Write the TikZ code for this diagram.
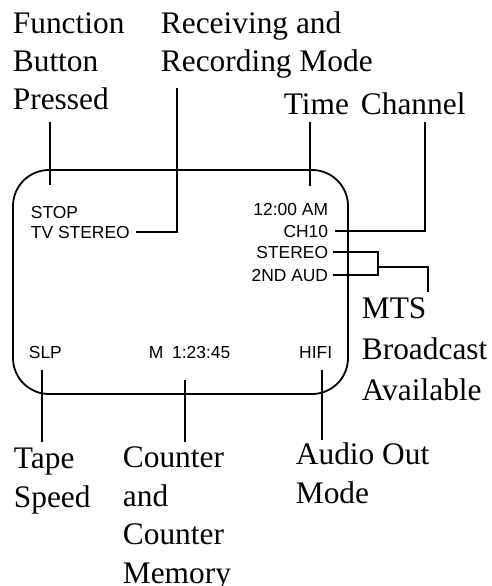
\documentclass[tikz,border=0pt]{standalone}
\usepackage{fontspec}
\setmainfont{Liberation Serif}
\setsansfont{Liberation Sans}
\usetikzlibrary{positioning}

\begin{document}
\begin{tikzpicture}[x=1bp, y=-1bp, line width=1.8bp,
		lbl/.style={inner sep=0pt, anchor=base west, align=left, font=\fontsize{31.5}{38.5}\selectfont},
		scr/.style={inner sep=0pt, font=\sffamily\fontsize{17.5}{22}\selectfont}]
		\useasboundingbox (0,0) rectangle (492,586);

		% screen
		\draw[rounded corners=36bp] (13,170) rectangle (348,394);

		\node[scr, anchor=base west] (stop) at (30,218) {STOP};
		\node[scr, anchor=base west] (tvst) at (30,238) {TV STEREO};
		\node[scr, anchor=base east] (clock) at (329,215) {12:00 AM};
		\node[scr, anchor=base east] (ch) at (329,237) {CH10};
		\node[scr, anchor=base east] (stereo) at (329,258) {STEREO};
		\node[scr, anchor=base east] (aud) at (329,281) {2ND AUD};
		\node[scr, anchor=base west] (slp) at (28,358) {SLP};
		\node[scr, anchor=base west] (cnt) at (148,358) {M\enspace 1:23:45};
		\node[scr, anchor=base east] (hifi) at (333,358) {HIFI};

		% labels (placed by the baseline of their last line)
		\node[lbl] (fbp) at (12,110) {Function\\Button\\Pressed};
		\node[lbl] (rrm) at (160,72) {Receiving and\\Recording Mode};
		\node[lbl] (time) at (283,115) {Time};
		\node[lbl] (chan) at (360,115) {Channel};
		\node[lbl, font=\fontsize{31.5}{41}\selectfont] (mts) at (361,400) {MTS\\Broadcast\\Available};
		\node[lbl] (tape) at (13,507) {Tape\\Speed};
		\node[lbl] (count) at (122,583) {Counter\\and\\Counter\\Memory};
		\node[lbl] (audio) at (295,503) {Audio Out\\Mode};

		% leader ends
		\coordinate (fbp-a) at (50,122);
		\coordinate (fbp-b) at (50,185);
		\coordinate (rrm-a) at (177,88);
		\coordinate (time-a) at (310,122);
		\coordinate (time-b) at (310,186);
		\coordinate (chan-a) at (425,122);
		\coordinate (mts-j) at (378,267);
		\coordinate (mts-b) at (428,292);
		\coordinate (tape-a) at (42,370);
		\coordinate (tape-b) at (42,442);
		\coordinate (count-a) at (185,380);
		\coordinate (count-b) at (185,442);
		\coordinate (audio-a) at (322,370);
		\coordinate (audio-b) at (322,440);

		\draw (fbp-a) -- (fbp-b);
		\draw (rrm-a) |- ([xshift=5bp]tvst.east);
		\draw (time-a) -- (time-b);
		\draw (chan-a) |- ([xshift=6bp]ch.east);
		\draw ([xshift=4bp]stereo.east) -| (mts-j) |- ([xshift=4bp]aud.east);
		\draw (mts-j) -| (mts-b);
		\draw (tape-a) -- (tape-b);
		\draw (count-a) -- (count-b);
		\draw (audio-a) -- (audio-b);
	\end{tikzpicture}
\end{document}
